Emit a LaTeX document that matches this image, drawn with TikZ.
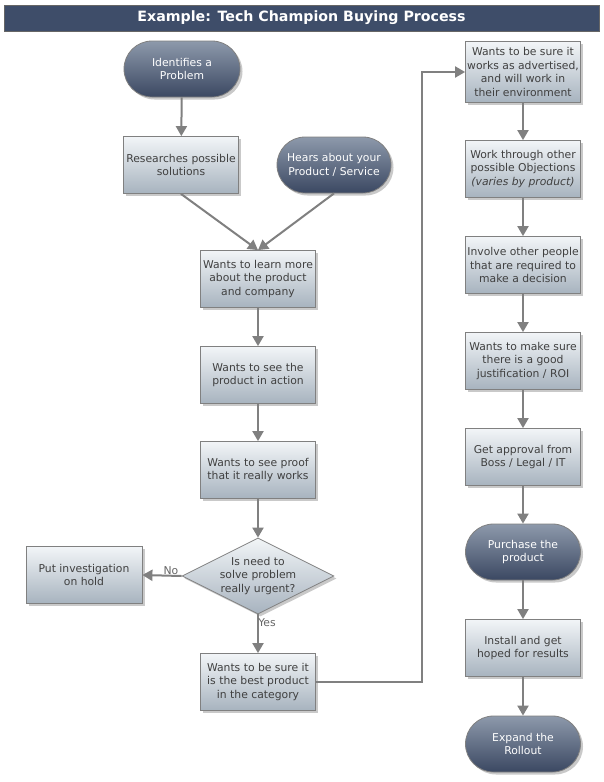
\documentclass[tikz,border=0pt]{standalone}
\usepackage{fontspec}
\setmainfont{DejaVu Sans}
\usetikzlibrary{shapes.geometric,arrows.meta,shadows,positioning}
\definecolor{titlebg}{HTML}{3E4D69}
\definecolor{boxtop}{HTML}{F2F5F7}
\definecolor{boxbot}{HTML}{A7B3BF}
\definecolor{pilltop}{HTML}{8D99AB}
\definecolor{pillbot}{HTML}{3B4862}
\definecolor{linegray}{HTML}{808080}
\definecolor{txtgray}{HTML}{404040}
\tikzset{
  x=1pt, y=-1pt,
  every node/.style={font=\fontsize{10.8}{13.4}\selectfont},
  shad/.style={drop shadow={shadow xshift=2.5pt, shadow yshift=-2.5pt, opacity=0.35, fill=black!60}},
  procbox/.style={rectangle, draw=linegray, line width=0.8pt, top color=boxtop, bottom color=boxbot,
    minimum width=115pt, minimum height=57pt, align=center, text=txtgray, inner sep=0pt, shad},
  pill/.style={rectangle, rounded corners=28pt, draw=linegray, line width=0.8pt, top color=pilltop, bottom color=pillbot,
    minimum width=116pt, minimum height=56pt, align=center, text=white, inner sep=0pt, shad},
  decision/.style={diamond, draw=linegray, line width=0.8pt, top color=boxtop, bottom color=boxbot,
    aspect=2, inner xsep=-4pt, inner ysep=-4pt, minimum width=152pt, minimum height=76pt,
    align=center, text=txtgray, shad},
  arr/.style={draw=linegray, line width=2pt, -{Triangle[length=10pt,width=11pt]}},
  lbl/.style={text=txtgray!80, inner sep=0pt},
}
\begin{document}
\begin{tikzpicture}
\useasboundingbox (0,0) rectangle (603,782);
\fill[white] (0,0) rectangle (603,782);
% title
\node[rectangle, draw=gray!80!black, line width=0.8pt, fill=titlebg, minimum width=595pt, minimum height=26pt,
  text=white, font=\fontsize{14.2}{16}\selectfont\bfseries, inner sep=0pt] (title) at (301.5,18) {Example: Tech Champion Buying Process};
% left column
\node[pill] (ident) at (182,69) {Identifies a\\Problem};
\node[procbox] (research) at (181,165) {Researches possible\\solutions};
\node[pill, minimum width=114pt] (hears) at (334,165) {Hears about your\\Product / Service};
\node[procbox] (learn) at (258,279) {Wants to learn more\\about the product\\and company};
\node[procbox] (action) at (258,375) {Wants to see the\\product in action};
\node[procbox] (proof) at (258,470) {Wants to see proof\\that it really works};
\node[decision] (urgent) at (258,576) {Is need to\\solve problem\\really urgent?};
\node[procbox, minimum width=116pt] (hold) at (84,575) {Put investigation\\on hold};
\node[procbox] (best) at (258,682) {Wants to be sure it\\is the best product\\in the category};
% right column
\node[procbox, minimum height=61pt] (works) at (523,72) {Wants to be sure it\\works as advertised,\\and will work in\\their environment};
\node[procbox] (objections) at (523,169) {Work through other\\possible Objections\\\textit{(varies by product)}};
\node[procbox] (involve) at (523,265) {Involve other people\\that are required to\\make a decision};
\node[procbox] (justify) at (523,361) {Wants to make sure\\there is a good\\justification / ROI};
\node[procbox] (approval) at (523,457) {Get approval from\\Boss / Legal / IT};
\node[pill, minimum width=115pt] (purchase) at (523,552) {Purchase the\\product};
\node[procbox] (install) at (523,648) {Install and get\\hoped for results};
\node[pill, minimum width=115pt] (expand) at (523,744) {Expand the\\Rollout};
% connectors
\draw[arr] (ident) -- (research);
\draw[arr] (research.south) -- (learn.north);
\draw[arr] (hears.south) -- (learn.north);
\draw[arr] (learn) -- (action);
\draw[arr] (action) -- (proof);
\draw[arr] (proof) -- (urgent);
\draw[arr] (urgent.west) -- (hold.east);
\draw[arr] (urgent.south) -- (best.north);
\draw[arr] (best.east) -- ++(106,0) |- (works.west);
\draw[arr] (works) -- (objections);
\draw[arr] (objections) -- (involve);
\draw[arr] (involve) -- (justify);
\draw[arr] (justify) -- (approval);
\draw[arr] (approval) -- (purchase);
\draw[arr] (purchase) -- (install);
\draw[arr] (install) -- (expand);
% labels
\node[lbl] (nolbl) at (171,571) {No};
\node[lbl] (yeslbl) at (267,623) {Yes};
\end{tikzpicture}
\end{document}
